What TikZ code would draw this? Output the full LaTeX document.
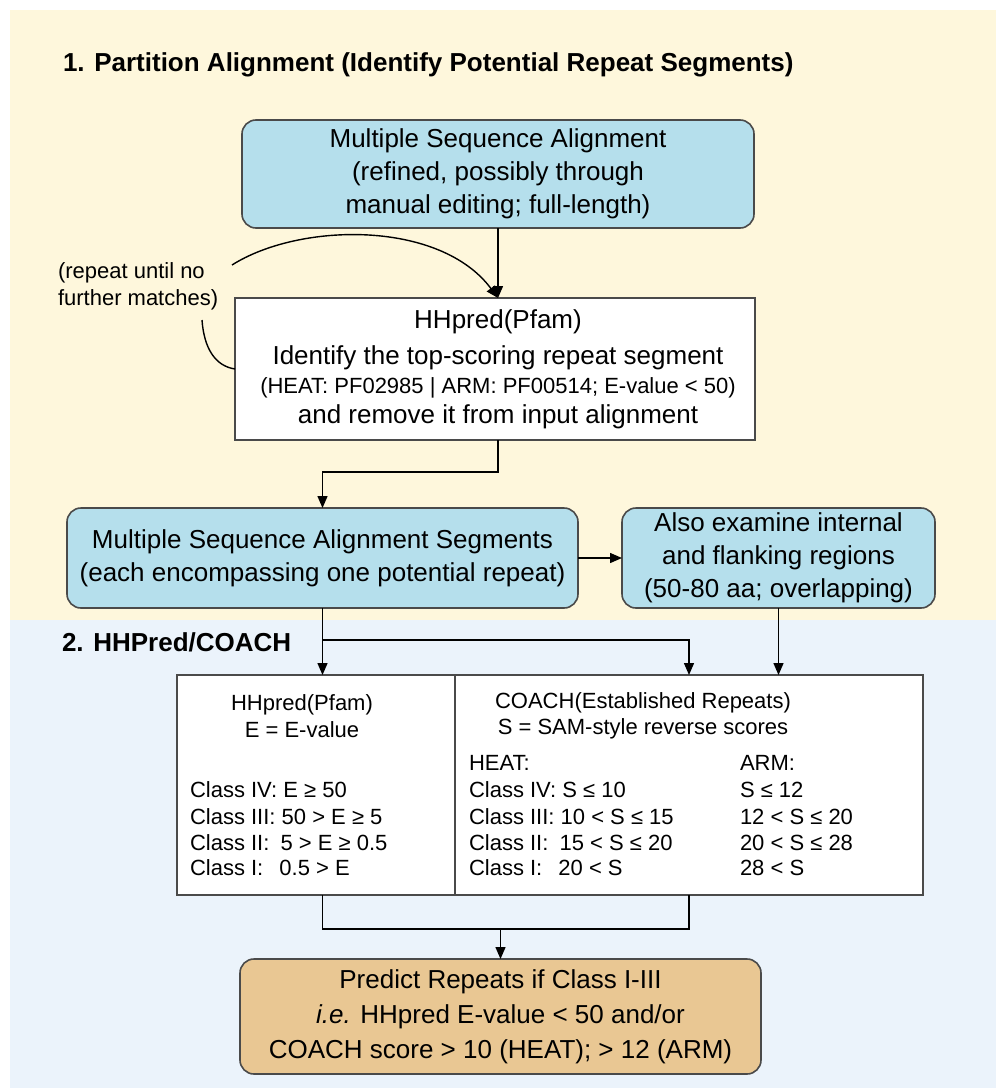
\documentclass[tikz,border=0pt]{standalone}
\usepackage{fontspec}
\setmainfont{Liberation Sans}
\usetikzlibrary{arrows.meta}
\definecolor{bgyellow}{HTML}{FEF7DC}
\definecolor{bgblue}{HTML}{EBF3FB}
\definecolor{boxblue}{HTML}{B5DFEC}
\definecolor{boxorange}{HTML}{E9C793}
\definecolor{edgegray}{HTML}{4A4A4A}
\begin{document}
\begin{tikzpicture}[x=0.5pt,y=-0.5pt,
  every node/.style={inner sep=0pt, outer sep=0pt},
  rbox/.style={draw=edgegray, line width=0.8pt, rounded corners=7pt, align=center},
  bluebox/.style={rbox, fill=boxblue},
  sqbox/.style={draw=edgegray, line width=0.8pt, fill=white},
  boxfont/.style={font=\fontsize{13}{16.5}\selectfont},
  smallfont/.style={font=\fontsize{11}{13.5}\selectfont},
  tabfont/.style={font=\fontsize{11}{13.3}\selectfont},
  headfont/.style={font=\bfseries\fontsize{13}{15}\selectfont},
  arr/.style={draw=black, line width=0.7pt, -{Triangle[length=6pt,width=5pt]}},
  ln/.style={draw=black, line width=0.7pt}]
\useasboundingbox (0,0) rectangle (996,1092);
\fill[bgyellow] (10,10) rectangle (996,620);
\fill[bgblue] (10,620) rectangle (996,1088);

% section 1
\node[headfont, anchor=west] (t1) at (63,65) {1. Partition Alignment (Identify Potential Repeat Segments)};
\node[bluebox, boxfont, minimum width=256pt, minimum height=54pt] (b1) at (498,174)
  {Multiple Sequence Alignment\\(refined, possibly through\\manual editing; full-length)};
\node[sqbox, minimum width=260pt, minimum height=71pt] (b2) at (495,369) {};
\node[boxfont] (b2a) at (498,322) {HHpred(Pfam)};
\node[boxfont] (b2b) at (498,358) {Identify the top-scoring repeat segment};
\node[smallfont] (b2c) at (498,388) {(HEAT: PF02985 | ARM: PF00514; E-value < 50)};
\node[boxfont] (b2d) at (498,417) {and remove it from input alignment};
\node[smallfont, align=left, anchor=west] (rep) at (58,286) {(repeat until no\\further matches)};

\coordinate (c1) at (232,265);
\coordinate (c2) at (202,320);
\coordinate (b2top) at (498,298);
\draw[arr] (b1.south) -- (b2top);
\draw[arr] (c1) .. controls (300,222) and (440,220) .. (b2top);
\draw[ln] (c2) .. controls (204,348) and (215,366) .. (b2.west);

\node[bluebox, boxfont, minimum width=255.5pt, minimum height=50pt] (b3) at (322.5,558)
  {Multiple Sequence Alignment Segments\\(each encompassing one potential repeat)};
\node[bluebox, boxfont, minimum width=156.5pt, minimum height=50pt] (b4) at (778.5,558)
  {Also examine internal\\and flanking regions\\(50-80 aa; overlapping)};
\coordinate (b2bot) at (498,440);
\draw[arr] (b2bot) -- ++(0,32) -| (b3.north);
\draw[arr] (b3.east) -- (b4.west);

% section 2
\node[headfont, anchor=west] (t2) at (62,642) {2. HHPred/COACH};
\node[sqbox, minimum width=139pt, minimum height=110pt] (tl) at (316,785) {};
\node[sqbox, minimum width=234pt, minimum height=110pt] (tr) at (689,785) {};

\coordinate (j1) at (322.5,640);
\coordinate (j2) at (689,640);
\draw[arr] (b3.south) -- (b3.south |- tl.north);
\draw[arr] (j1) -- (j2) -- (j2 |- tr.north);
\draw[arr] (b4.south) -- (b4.south |- tr.north);

\node[tabfont, align=center] (lh) at (302,716) {HHpred(Pfam)\\E = E-value};
\node[tabfont, anchor=west] (l1) at (190,790) {Class IV: E ≥ 50};
\node[tabfont, anchor=west] (l2) at (190,817) {Class III: 50 > E ≥ 5};
\node[tabfont, anchor=west] (l3) at (190,843) {Class II: \hspace{2.5pt}5 > E ≥ 0.5};
\node[tabfont, anchor=west] (l4) at (190,868) {Class I: \hspace{5pt}0.5 > E};

\node[tabfont, align=center] (rh) at (643,716) {COACH(Established Repeats)\\S = SAM-style reverse scores};
\node[tabfont, anchor=west] (r0) at (469,763) {HEAT:};
\node[tabfont, anchor=west] (r1) at (469,790) {Class IV: S ≤ 10};
\node[tabfont, anchor=west] (r2) at (469,817) {Class III: 10 < S ≤ 15};
\node[tabfont, anchor=west] (r3) at (469,843) {Class II: \hspace{2.5pt}15 < S ≤ 20};
\node[tabfont, anchor=west] (r4) at (469,868) {Class I: \hspace{5pt}20 < S};
\node[tabfont, anchor=west] (a0) at (740,763) {ARM:};
\node[tabfont, anchor=west] (a1) at (740,790) {S ≤ 12};
\node[tabfont, anchor=west] (a2) at (740,817) {12 < S ≤ 20};
\node[tabfont, anchor=west] (a3) at (740,843) {20 < S ≤ 28};
\node[tabfont, anchor=west] (a4) at (740,868) {28 < S};

\node[rbox, fill=boxorange, font=\fontsize{13}{17.5}\selectfont, minimum width=260.5pt, minimum height=57.5pt] (b5) at (500.5,1016.5)
  {Predict Repeats if Class I-III\\\textit{i.e.} HHpred E-value < 50 and/or\\COACH score > 10 (HEAT); > 12 (ARM)};

\coordinate (k1) at (322.5,929);
\coordinate (k2) at (689,929);
\coordinate (k0) at (500.5,929);
\draw[ln] (tl.south -| k1) -- (k1) -- (k2) -- (tr.south -| k2);
\draw[arr] (k0) -- (b5.north);
\end{tikzpicture}
\end{document}
